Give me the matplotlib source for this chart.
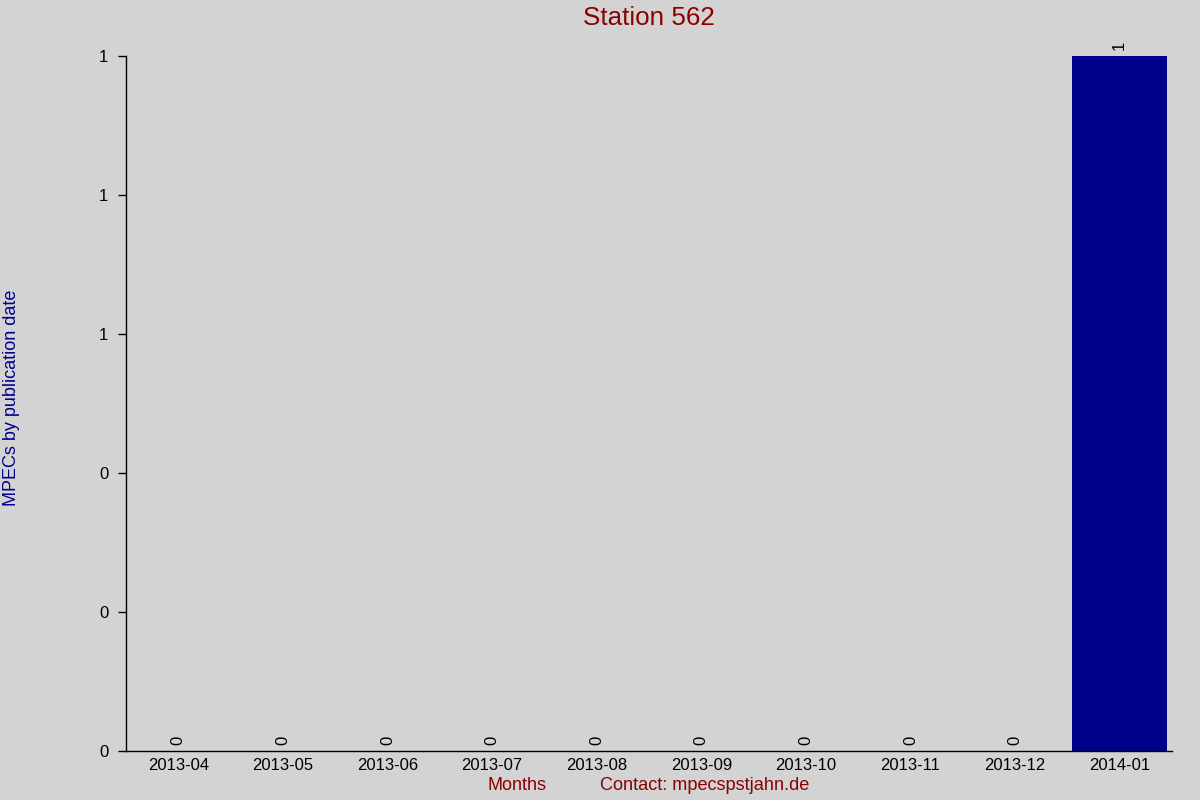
import matplotlib
matplotlib.use("Agg")
import matplotlib.pyplot as plt
from matplotlib.ticker import FormatStrFormatter

MONTHS = ["2013-04", "2013-05", "2013-06", "2013-07", "2013-08",
          "2013-09", "2013-10", "2013-11", "2013-12", "2014-01"]
COUNTS = [0, 0, 0, 0, 0, 0, 0, 0, 0, 1]
Y_TICKS = [0.0, 0.2, 0.4, 0.6, 0.8, 1.0]

BG = "#d3d3d3"
plt.rcParams["font.family"] = ["Liberation Sans", "DejaVu Sans"]

fig = plt.figure(figsize=(12, 8), dpi=100, facecolor=BG)
ax = fig.add_axes([0.105, 0.06125, 0.8717, 0.86875], facecolor=BG)

x = list(range(len(MONTHS)))
ax.bar(x, COUNTS, width=0.91, color="#00008b")
for xi, v in zip(x, COUNTS):
    ax.annotate(str(v), (xi, v), xytext=(0, 4), textcoords="offset points",
                rotation=90, ha="center", va="bottom", fontsize=12)

ax.set_xlim(-0.5, len(MONTHS) - 0.5)
ax.set_ylim(0, max(COUNTS))
ax.set_xticks(x, MONTHS)
ax.set_yticks(Y_TICKS)
ax.yaxis.set_major_formatter(FormatStrFormatter("%.0f"))
ax.tick_params(axis="x", length=0, pad=5, labelsize=12)
ax.tick_params(axis="y", length=5.8, width=1, pad=7, labelsize=12)
for s in ["top", "right"]:
    ax.spines[s].set_visible(False)
for s in ["left", "bottom"]:
    ax.spines[s].set_linewidth(1)

fig.text(0.541, 0.977, "Station 562", ha="center", va="center",
         fontsize=18.7, color="#8b0000")
fig.text(0.0095, 0.503, "MPECs by publication date", rotation=90,
         ha="center", va="center", fontsize=13, color="#00008b")
fig.text(0.431, 0.018, "Months", ha="center", va="center",
         fontsize=13, color="#8b0000")
fig.text(0.587, 0.018, "Contact: mpecspstjahn.de", ha="center", va="center",
         fontsize=13.1, color="#8b0000")

fig.savefig("out.png", dpi=100, facecolor=BG)
